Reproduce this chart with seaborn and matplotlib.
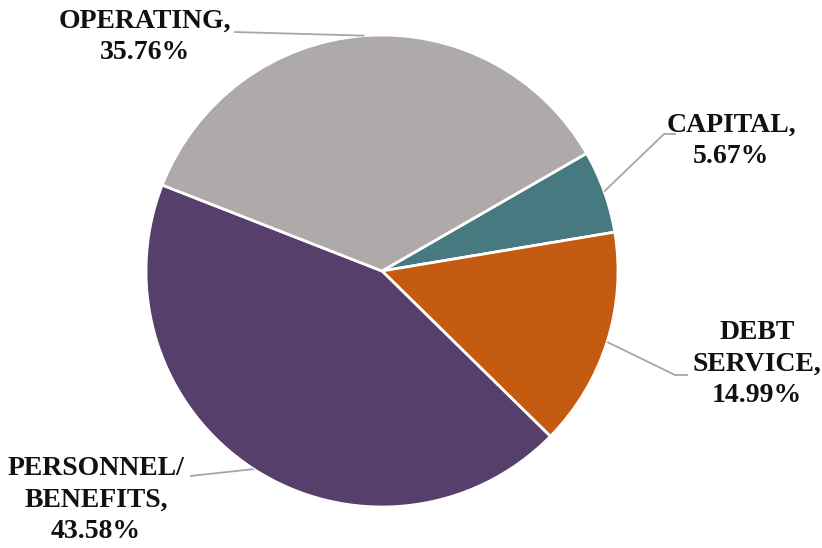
import matplotlib
matplotlib.use("Agg")
import matplotlib.pyplot as plt
import seaborn as sns
import numpy as np

# Data
categories = ["CAPITAL,", "DEBT\nSERVICE,", "PERSONNEL/\nBENEFITS,", "OPERATING,"]
shares = [5.67, 14.99, 43.58, 35.76]
colors = ["#477A80", "#C55A11", "#56406B", "#AEAAAA"]

sns.set_theme(style="white")
plt.rcParams['font.family'] = ['Liberation Serif', 'DejaVu Serif']

W, H = 822, 548
fig = plt.figure(figsize=(W / 100, H / 100), dpi=100)
ax = fig.add_axes([0, 0, 1, 1])

cx, cy, r = 382, H - 271, 236
wedges, _ = ax.pie(shares, colors=colors, startangle=29.9, counterclock=False,
                   center=(cx, cy), radius=r, frame=True,
                   wedgeprops=dict(edgecolor="white", linewidth=2.0))
ax.set_xlim(0, W)
ax.set_ylim(0, H)
ax.set_aspect("equal")
ax.axis("off")

# label layout (pixel coords, top-down): text center, elbow point, end point
layout = [
    dict(text=(731, 141), elbow=(664, 134), end=(676, 134)),
    dict(text=(757, 364), elbow=(675, 375), end=(688, 375)),
    dict(text=(96, 500), elbow=(190, 476), end=(190, 476)),
    dict(text=(145, 37), elbow=(234, 32), end=(234, 32)),
]

for w, cat, val, lay in zip(wedges, categories, shares, layout):
    mid = np.deg2rad((w.theta1 + w.theta2) / 2)
    sx, sy = cx + r * np.cos(mid), cy + r * np.sin(mid)
    ex, ey = lay["elbow"][0], H - lay["elbow"][1]
    fx, fy = lay["end"][0], H - lay["end"][1]
    ax.plot([sx, ex, fx], [sy, ey, fy], color="#A6A6A6", lw=1.3,
            solid_capstyle="butt", zorder=1)
    tx, ty = lay["text"][0], H - lay["text"][1]
    ax.text(tx, ty, f"{cat}\n{val:.2f}%", ha="center", va="center",
            fontsize=20, fontweight="bold", color="#111111", linespacing=1.35)

fig.savefig("out.png", dpi=100)
